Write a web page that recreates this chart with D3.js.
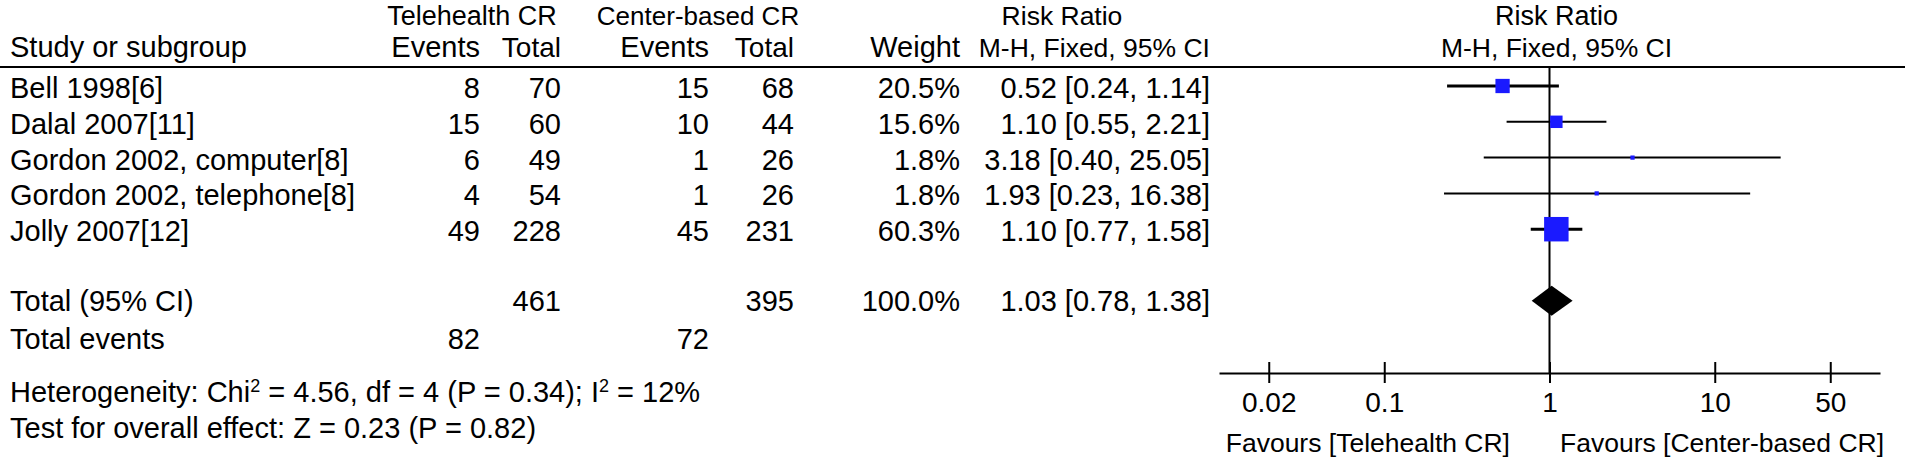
<!DOCTYPE html>
<html>
<head>
<meta charset="utf-8">
<script src="https://cdn.jsdelivr.net/npm/d3@7/dist/d3.min.js"></script>
<style>
  html, body { margin: 0; padding: 0; background: #fff; }
  svg text { font-family: "Liberation Sans", Arial, Helvetica, sans-serif; font-size: 29px; fill: #000; }
</style>
</head>
<body>
<svg id="chart" width="1905" height="459"></svg>
<script>
// ---- data ----
const studies = ["Bell 1998[6]", "Dalal 2007[11]", "Gordon 2002, computer[8]", "Gordon 2002, telephone[8]", "Jolly 2007[12]"];
const teleEvents = [8, 15, 6, 4, 49];
const teleTotal = [70, 60, 49, 54, 228];
const centerEvents = [15, 10, 1, 1, 45];
const centerTotal = [68, 44, 26, 26, 231];
const weights = [20.5, 15.6, 1.8, 1.8, 60.3];
const rr = [0.52, 1.10, 3.18, 1.93, 1.10];
const rrLow = [0.24, 0.55, 0.40, 0.23, 0.77];
const rrHigh = [1.14, 2.21, 25.05, 16.38, 1.58];
const pooled = { teleTotal: 461, centerTotal: 395, weight: 100.0, rr: 1.03, low: 0.78, high: 1.38, teleEvents: 82, centerEvents: 72 };
const tickValues = [0.02, 0.1, 1, 10, 50];
const favourLeft = "Favours [Telehealth CR]";
const favourRight = "Favours [Center-based CR]";

// ---- layout ----
const svg = d3.select("#chart");
const x = d3.scaleLog().domain([0.01, 100]).range([1219, 1880]);
const row = d3.scaleLinear().domain([0, 1]).range([86, 121.8]);
const side = d3.scaleSqrt().domain([0, 100]).range([0, 31.5]);
const textOff = 12;
const axisY = 373;
const headerLineY = 67;

const col = { name: 10, teleE: 480, teleT: 561, cenE: 709, cenT: 794, weight: 960, ci: 1210 };
const fmtCI = (m, l, h) => `${m.toFixed(2)} [${l.toFixed(2)}, ${h.toFixed(2)}]`;

function txt(xp, yp, s, anchor, size) {
  const t = svg.append("text").attr("x", xp).attr("y", yp).attr("text-anchor", anchor || "start").text(s);
  if (size) t.style("font-size", size + "px");
  return t;
}

// headers
txt(472, 25, "Telehealth CR", "middle", 27);
txt(698, 25, "Center-based CR", "middle", 26);
txt(1062, 25, "Risk Ratio", "middle", 26.5);
txt(x(1) + 7, 25, "Risk Ratio", "middle", 27);
txt(col.name, 57, "Study or subgroup");
txt(col.teleE, 57, "Events", "end");
txt(col.teleT, 57, "Total", "end", 28);
txt(col.cenE, 57, "Events", "end");
txt(col.cenT, 57, "Total", "end", 28);
txt(col.weight, 57, "Weight", "end");
txt(col.ci, 57, "M-H, Fixed, 95% CI", "end", 26.5);
txt(x(1) + 7, 57, "M-H, Fixed, 95% CI", "middle", 26.5);

svg.append("line").attr("x1", 0).attr("x2", 1905).attr("y1", headerLineY).attr("y2", headerLineY)
  .attr("stroke", "#000").attr("stroke-width", 2);

// study rows
studies.forEach((s, i) => {
  const yb = row(i) + textOff;
  txt(col.name, yb, s);
  txt(col.teleE, yb, teleEvents[i], "end");
  txt(col.teleT, yb, teleTotal[i], "end");
  txt(col.cenE, yb, centerEvents[i], "end");
  txt(col.cenT, yb, centerTotal[i], "end");
  txt(col.weight, yb, weights[i].toFixed(1) + "%", "end");
  txt(col.ci, yb, fmtCI(rr[i], rrLow[i], rrHigh[i]), "end");
});

// totals
const totY = row(6);
txt(col.name, totY + 10, "Total (95% CI)");
txt(col.teleT, totY + 10, pooled.teleTotal, "end");
txt(col.cenT, totY + 10, pooled.centerTotal, "end");
txt(col.weight, totY + 10, pooled.weight.toFixed(1) + "%", "end");
txt(col.ci, totY + 10, fmtCI(pooled.rr, pooled.low, pooled.high), "end");
const evY = row(7) + textOff;
txt(col.name, evY, "Total events");
txt(col.teleE, evY, pooled.teleEvents, "end");
txt(col.cenE, evY, pooled.centerEvents, "end");

// heterogeneity & overall
const het = svg.append("text").attr("x", col.name).attr("y", row(8.5) + textOff);
het.append("tspan").text("Heterogeneity: Chi");
het.append("tspan").attr("dy", -10).style("font-size", "18px").text("2");
het.append("tspan").attr("dy", 10).text(" = 4.56, df = 4 (P = 0.34); I");
het.append("tspan").attr("dy", -10).style("font-size", "18px").text("2");
het.append("tspan").attr("dy", 10).text(" = 12%");
txt(col.name, row(9.5) + textOff, "Test for overall effect: Z = 0.23 (P = 0.82)");

// forest plot: vertical line of no effect
svg.append("line").attr("x1", x(1)).attr("x2", x(1)).attr("y1", headerLineY).attr("y2", axisY)
  .attr("stroke", "#000").attr("stroke-width", 2);

// CI lines and squares
const g = svg.append("g");
studies.forEach((s, i) => {
  const yc = row(i);
  g.append("line").attr("x1", x(rrLow[i])).attr("x2", x(rrHigh[i])).attr("y1", yc).attr("y2", yc)
    .attr("stroke", "#000").attr("stroke-width", weights[i] >= 20 ? 3 : 2);
  const w = side(weights[i]);
  g.append("rect").attr("x", x(rr[i]) - w / 2).attr("y", yc - w / 2).attr("width", w).attr("height", w)
    .attr("fill", "#1a1aff");
});

// diamond
const dh = 15;
g.append("path")
  .attr("d", `M${x(pooled.low)},${totY} L${x(pooled.rr)},${totY - dh} L${x(pooled.high)},${totY} L${x(pooled.rr)},${totY + dh} Z`)
  .attr("fill", "#000");

// axis
const axis = d3.axisBottom(x).tickValues(tickValues).tickSizeOuter(0).tickSizeInner(10).tickPadding(0)
  .tickFormat(d => String(d));
const ag = svg.append("g").attr("transform", `translate(0,${axisY})`).call(axis);
ag.select(".domain").attr("stroke", "#000").attr("stroke-width", 2);
ag.selectAll(".tick line").attr("y1", -11).attr("y2", 10).attr("stroke", "#000").attr("stroke-width", 2);
ag.selectAll(".tick text").attr("y", 39).attr("dy", null)
  .style("font-family", '"Liberation Sans", Arial, sans-serif').style("font-size", "28px").attr("fill", "#000");

txt(1510, 452, favourLeft, "end", 26.5);
txt(1560, 452, favourRight, "start", 26.5);
</script>
</body>
</html>
